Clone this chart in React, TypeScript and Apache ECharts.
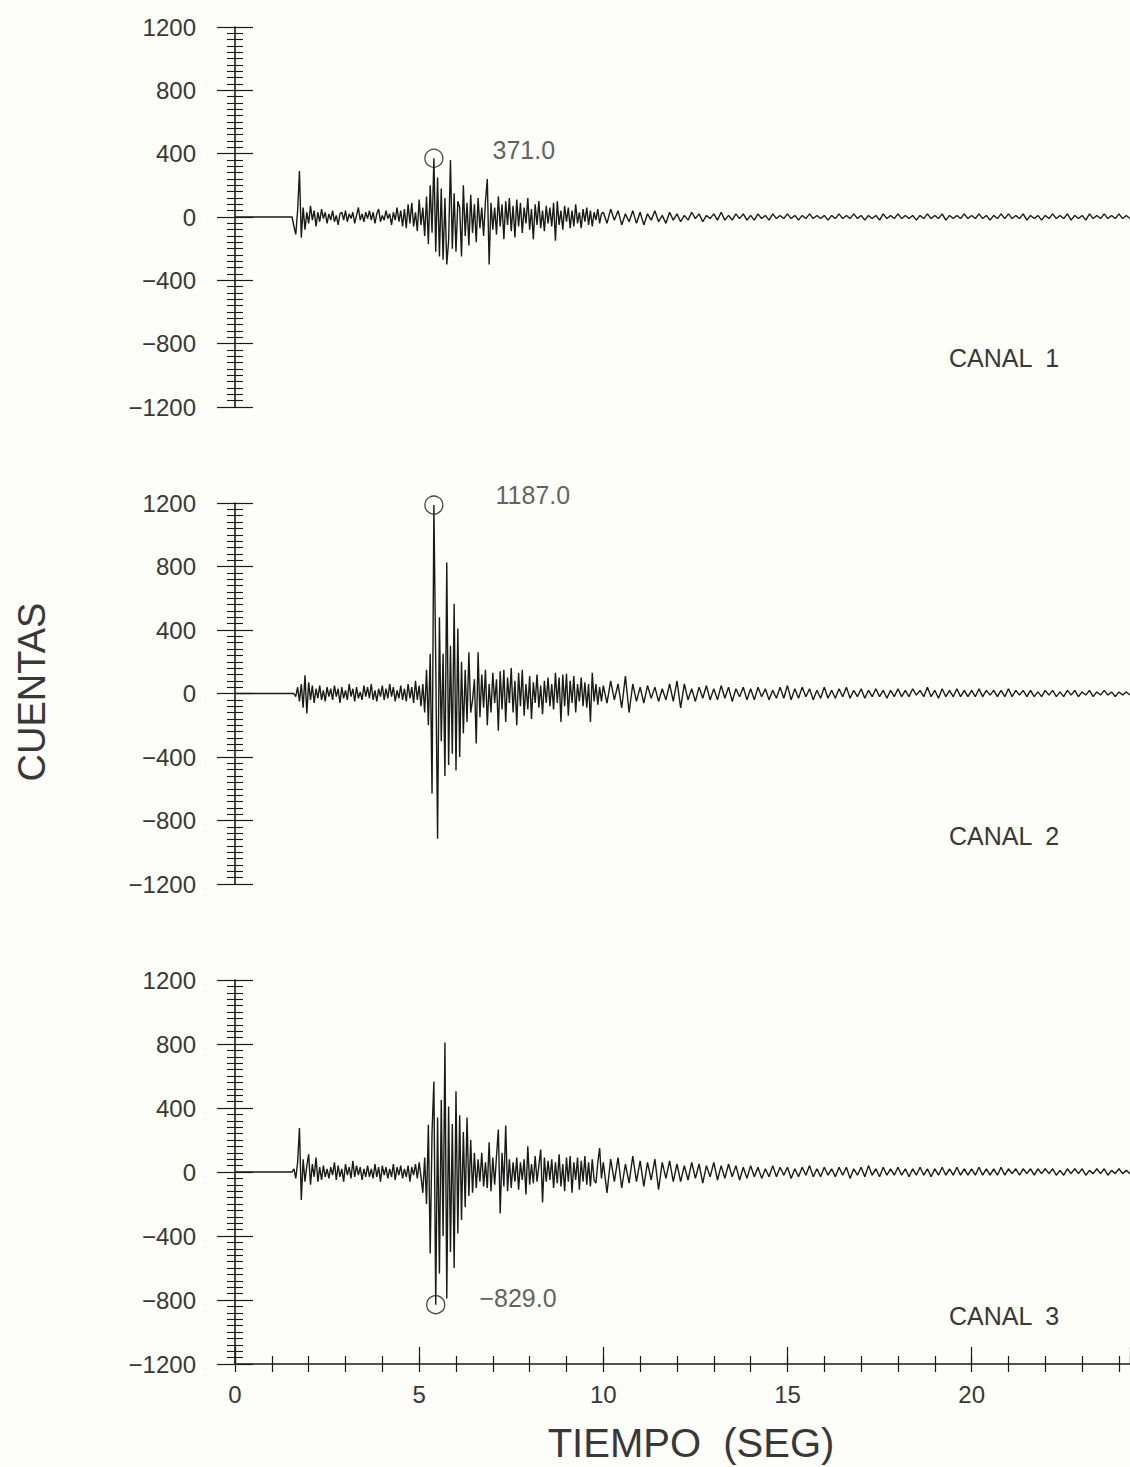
import React, { useEffect, useRef } from 'react';
import * as echarts from 'echarts';

// ---- data ----
const ONSET_FLAT_END = 1.55; // trace is flat (0) from t=0 until here
const EARLY_T0 = 1.6;
const EARLY_DT = 0.05;
const LATE_T0 = 10.0;
const LATE_DT = 0.1;
const X_MAX = 24.3;

const CHANNEL_NAMES = ['CANAL  1', 'CANAL  2', 'CANAL  3'];
const X_LABELS = [0, 5, 10, 15, 20];
const PEAK_TIMES = [5.4, 5.4, 5.45];
const PEAK_VALUES = [371.0, 1187.0, -829.0];

const CH1_EARLY = [
  -60, -110, 40, 290, -130, 60, -80, 30, -40, 70, -20, 40, -60, 30, -30, 50, -10, 30, -40, 20,
  -20, 40, -30, 10, -50, 20, 30, -20, 40, -30, 20, -10, 30, -40, 10, 60, -20, 20, -30, 30,
  -10, 40, -20, 30, -40, 20, 50, -30, 10, -20, 40, -10, 20, -50, 30, -20, 60, -30, 40, -60,
  50, -70, 80, -40, 90, -60, 30, -90, 110, -50, 60, -120, 130, -170, 200, -100, 371, -220, 250, -250,
  180, -270, 120, -300, -150, 360, -200, 150, -220, 100, 60, -250, 200, -120, 90, -180, 140, -100, 80, -160,
  120, -70, 60, -120, 100, 240, -300, 90, -80, 60, -110, 130, -60, 80, -140, 100, -50, 120, -90, 70,
  -130, 110, -60, 90, -100, 60, -40, 120, -80, 50, -140, 80, -50, 100, -70, 40, -90, 70, -40, 60,
  -60, 90, -150, 100, -50, 40, -80, 70, -30, 60, -70, 40, -60, 80, -40, 30, -70, 50, -30, 60,
  -50, 40, -60, 30, -20, 50, -40, 20,
];
const CH1_LATE = [
  30, -40, 50, -20, 40, -50, 20, -30, 40, -40, 30, -50, 20, -20, 40, -30, 10, -40, 30, -20,
  20, -30, 10, -20, 30, -10, 20, -30, 10, -10, 20, -20, 30, -20, 10, -20, 20, -10, 20, -20,
  10, -20, 20, -10, 10, -20, 20, -10, 10, -10, 20, -10, 10, -20, 10, -10, 20, -10, 10, -10,
  10, -20, 10, -10, 20, -10, 10, -10, 20, -10, 10, -20, 10, -10, 10, -20, 20, -10, 10, -10,
  20, -10, 10, -10, 10, -20, 10, -10, 20, -10, 10, -10, 20, -20, 10, -10, 10, -10, 20, -10,
  10, -10, 20, -10, 10, -20, 10, -10, 20, -10, 20, -10, 10, -10, 20, -20, 10, -10, 10, -20,
  10, -10, 20, -10, 10, -10, 20, -20, 10, -10, 10, -20, 20, -10, 10, -10, 20, -10, 10, -10, 20, -10, 10, -10,
];

const CH2_EARLY = [
  0, -20, 40, -50, 60, -90, 115, -125, 70, -40, 50, -60, 30, -30, 50, -40, 20, -50, 40, -20,
  30, -40, 50, -20, 30, -60, 40, -30, 20, -40, 60, -20, 30, -50, 40, -30, 10, -40, 50, -20,
  40, -30, 60, -40, 20, -50, 30, -20, 50, -40, 30, -30, 60, -20, 40, -50, 20, -30, 50, -40,
  30, -50, 60, -30, 40, -60, 80, -40, 50, -80, 60, -120, 150, -200, 250, -630, 1187, 200, -915, 480,
  -300, 250, -520, 825, -450, 300, -380, 565, -485, 410, -400, 200, -250, 150, -180, 260, -120, -40, 90, -315,
  260, -150, 120, -90, 150, -200, 60, -120, 130, -60, 90, -235, 140, -100, 150, -180, 100, -60, 160, -120,
  80, -200, 130, -80, 150, -140, 60, -100, 110, -160, 70, -60, 120, -90, 50, -130, 80, -60, 100, -80,
  60, -100, 130, -60, 100, -180, 120, -80, 125, -140, 80, -60, 110, -120, 60, -50, 100, -80, 70, -90,
  60, -180, 130, -50, 60, -70, 40, -50,
];
const CH2_LATE = [
  50, -60, 80, -40, 60, -90, 110, -120, 60, -50, 40, -60, 50, -30, 40, -50, 30, -40, 60, -50,
  80, -90, 60, -40, 30, -50, 40, -30, 50, -40, 30, -40, 50, -30, 40, -50, 30, -20, 40, -40,
  30, -40, 40, -20, 30, -40, 20, -30, 40, -30, 50, -40, 30, -30, 40, -20, 30, -40, 20, -30,
  40, -30, 20, -30, 30, -20, 40, -30, 20, -20, 30, -30, 20, -20, 30, -20, 20, -30, 20, -20,
  30, -20, 20, -20, 30, -10, 20, -20, 40, -20, 20, -30, 30, -20, 20, -20, 30, -20, 20, -20,
  20, -20, 30, -20, 20, -10, 20, -20, 20, -20, 30, -20, 20, -10, 20, -20, 20, -20, 10, -20,
  20, -10, 20, -20, 10, -20, 20, -10, 20, -20, 10, -10, 20, -20, 10, -10, 20, -10, 10, -20, 10, -10, 10, -10,
];

const CH3_EARLY = [
  20, -40, 60, 275, -175, 80, -60, 40, 110, -80, 50, -30, 90, -60, 30, -50, 40, -30, 20, -40,
  30, -20, 60, -50, 40, -30, 20, -60, 50, -20, 30, -40, 70, -30, 40, -20, 30, -50, 20, -30,
  40, -30, 20, -40, 50, -30, 30, -60, 40, -20, 30, -40, 20, -30, 50, -50, 30, -20, 40, -40,
  20, -30, 40, -60, 30, -20, 50, -40, 60, -30, -130, 90, -200, 295, -510, 250, 565, -829, 340, -635,
  450, -400, 810, -790, 410, -500, 300, -600, 505, -385, 355, -300, 250, -220, 340, -150, 200, -130, 120, -100,
  80, -60, 120, -90, 60, -100, 185, -120, 90, -80, 100, 265, -260, 120, -90, 290, -120, 80, -100, 60,
  -60, 90, -110, 60, -50, 80, -140, 160, -80, 50, -70, 100, -60, 40, 140, -190, 90, -60, 70, -50,
  80, -100, 60, -70, 110, -90, 50, -120, 90, -60, 100, -130, 60, -50, 90, -110, 70, -60, 100, -80,
  60, -90, 80, -50, -70, 60, 150, -40,
];
const CH3_LATE = [
  60, -130, 80, -60, 90, -100, 50, -70, 100, -60, 70, -90, 60, -50, 80, -110, 60, -40, 70, -60,
  50, -60, 40, -50, 60, -40, 50, -70, 40, -30, 60, -50, 40, -40, 50, -30, 40, -50, 30, -40,
  40, -30, 30, -40, 20, -30, 40, -30, 30, -20, 30, -40, 20, -30, 30, -20, 40, -30, 20, -30,
  30, -20, 20, -30, 30, -20, 30, -40, 20, -20, 30, -30, 40, -20, 20, -30, 30, -20, 20, -20,
  30, -20, 20, -30, 20, -20, 30, -20, 20, -30, 20, -20, 30, -20, 20, -20, 30, -20, 20, -20,
  20, -20, 30, -20, 20, -20, 20, -20, 30, -20, 20, -10, 20, -20, 20, -10, 20, -20, 20, -10,
  20, -10, 20, -20, 10, -20, 20, -10, 20, -10, 20, -20, 10, -10, 20, -10, 20, -20, 10, -10, 20, -10, 10, -10,
];

const EARLY = [CH1_EARLY, CH2_EARLY, CH3_EARLY];
const LATE = [CH1_LATE, CH2_LATE, CH3_LATE];

// ---- styling / layout ----
const INK = '#1a1a1a';
const TEXT = '#383838';
const FONT = "'Liberation Sans', Arial, sans-serif";
const GRID_LEFT = 235;
const GRID_WIDTH = 895; // 0 .. 24.3 s
const GRID_TOPS = [27, 503, 980];
const GRID_HEIGHTS = [380, 381, 384];
const LABEL_DIST = [49, 52, 34];
const LABEL_DY = [-8, -10, -7];

function buildTrace(early: number[], late: number[]) {
  const pts: number[][] = [[0, 0], [ONSET_FLAT_END, 0]];
  early.forEach((v, i) => pts.push([+(EARLY_T0 + i * EARLY_DT).toFixed(3), v]));
  late.forEach((v, i) => {
    const t = +(LATE_T0 + i * LATE_DT).toFixed(3);
    if (t <= X_MAX + 1e-6) pts.push([t, v]);
  });
  return pts;
}

const fmtY = (v: number) => (v < 0 ? '\u2212' + Math.abs(v) : String(v));
const fmtPeak = (v: number) => (v < 0 ? '\u2212' : '') + Math.abs(v).toFixed(1);

export default function App() {
  const ref = useRef<HTMLDivElement>(null);
  useEffect(() => {
    if (!ref.current) return;
    const chart = echarts.init(ref.current, undefined, { renderer: 'svg' });

    const grid = GRID_TOPS.map((top, i) => ({
      left: GRID_LEFT,
      width: GRID_WIDTH,
      top,
      height: GRID_HEIGHTS[i],
      containLabel: false,
    }));

    const xAxis: any[] = [];
    [0, 1].forEach((g) =>
      xAxis.push({ gridIndex: g, type: 'value', min: 0, max: X_MAX, show: false })
    );
    const xBase = {
      gridIndex: 2,
      type: 'value',
      min: 0,
      max: X_MAX,
      position: 'bottom',
      splitLine: { show: false },
    };
    xAxis.push({
      ...xBase,
      interval: 1,
      axisLine: { show: true, onZero: false, lineStyle: { color: INK, width: 1.5 } },
      axisTick: { show: true, inside: false, length: 8, lineStyle: { color: INK, width: 1.2 } },
      axisLabel: {
        show: true,
        margin: 18,
        color: TEXT,
        fontSize: 24,
        fontFamily: FONT,
        showMaxLabel: false,
        formatter: (v: number) =>
          X_LABELS.includes(Math.round(v)) && Math.abs(v - Math.round(v)) < 1e-6 ? String(Math.round(v)) : '',
      },
    });
    xAxis.push({
      ...xBase,
      interval: 1,
      axisLine: { show: false, onZero: false },
      axisTick: { show: true, inside: true, length: 8, lineStyle: { color: INK, width: 1.2 } },
      axisLabel: { show: false },
    });
    xAxis.push({
      ...xBase,
      interval: 5,
      axisLine: { show: false, onZero: false },
      axisTick: { show: true, inside: true, length: 17, lineStyle: { color: INK, width: 1.2 } },
      axisLabel: { show: false },
    });

    const yAxis: any[] = [];
    [0, 1, 2].forEach((g) => {
      const base = {
        gridIndex: g,
        type: 'value',
        min: -1200,
        max: 1200,
        interval: 400,
        position: 'left',
        splitLine: { show: false },
        minorSplitLine: { show: false },
      };
      yAxis.push({
        ...base,
        axisLine: { show: true, onZero: false, lineStyle: { color: INK, width: 1.6 } },
        axisTick: { show: true, inside: false, length: 18, lineStyle: { color: INK, width: 1.2 } },
        minorTick: { show: true, splitNumber: 10, length: 8, lineStyle: { color: INK, width: 1.1 } },
        axisLabel: { show: true, margin: 39, color: TEXT, fontSize: 24, fontFamily: FONT, formatter: fmtY },
      });
      yAxis.push({
        ...base,
        axisLine: { show: false, onZero: false },
        axisTick: { show: true, inside: true, length: 18, lineStyle: { color: INK, width: 1.2 } },
        minorTick: { show: true, splitNumber: 10, length: 8, lineStyle: { color: INK, width: 1.1 } },
        axisLabel: { show: false },
      });
    });

    const xIdx = [0, 1, 2];
    const series: any[] = [];
    [0, 1, 2].forEach((c) => {
      series.push({
        type: 'line',
        xAxisIndex: xIdx[c],
        yAxisIndex: c * 2,
        data: buildTrace(EARLY[c], LATE[c]),
        showSymbol: false,
        symbol: 'none',
        lineStyle: { color: INK, width: 1.4 },
        silent: true,
        z: 3,
      });
      series.push({
        type: 'scatter',
        xAxisIndex: xIdx[c],
        yAxisIndex: c * 2,
        data: [[PEAK_TIMES[c], PEAK_VALUES[c]]],
        symbol: 'circle',
        symbolSize: 18,
        itemStyle: { color: 'rgba(0,0,0,0)', borderColor: INK, borderWidth: 1.3 },
        label: {
          show: true,
          position: 'right',
          distance: LABEL_DIST[c],
          offset: [0, LABEL_DY[c]],
          formatter: () => fmtPeak(PEAK_VALUES[c]),
          color: TEXT,
          fontSize: 25,
          fontFamily: FONT,
        },
        z: 4,
      });
    });

    const canalY = [358, 836, 1316];
    const graphic: any[] = [
      {
        type: 'text',
        x: 32,
        y: 692,
        rotation: Math.PI / 2,
        style: { text: 'CUENTAS', fill: TEXT, font: `38px ${FONT}`, align: 'center', verticalAlign: 'middle' },
      },
      {
        type: 'text',
        x: 691,
        y: 1443,
        style: { text: 'TIEMPO  (SEG)', fill: TEXT, font: `40px ${FONT}`, align: 'center', verticalAlign: 'middle' },
      },
      ...CHANNEL_NAMES.map((name, i) => ({
        type: 'text',
        x: 949,
        y: canalY[i],
        style: { text: name, fill: TEXT, font: `25px ${FONT}`, align: 'left', verticalAlign: 'middle' },
      })),
    ];

    chart.setOption({
      animation: false,
      backgroundColor: '#fdfdf9',
      grid,
      xAxis,
      yAxis,
      series,
      graphic,
    });
    return () => chart.dispose();
  }, []);

  return (
    <div
      ref={ref}
      style={{ position: 'absolute', left: 0, top: 0, width: 1130, height: 1467 }}
    />
  );
}
